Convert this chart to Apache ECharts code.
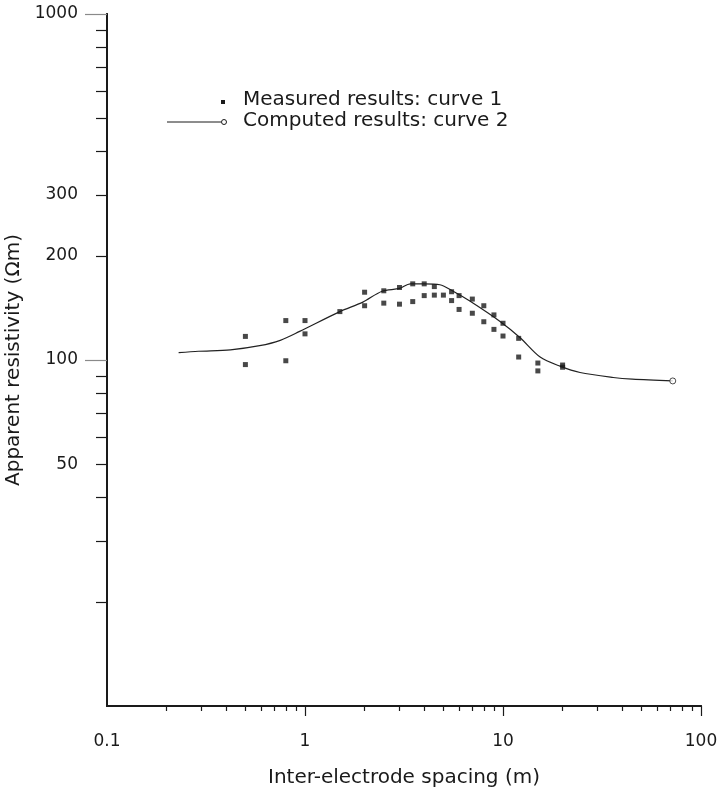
<!DOCTYPE html>
<html>
<head>
<meta charset="utf-8">
<script src="https://cdn.jsdelivr.net/npm/echarts@6/dist/echarts.min.js"></script>
<style>
  html, body { margin: 0; padding: 0; background: #fff; }
  #chart { width: 719px; height: 788px; }
</style>
</head>
<body>
<div id="chart"></div>
<script>
// measured points (curve 1)
const measuredX = [0.5, 0.5, 0.8, 0.8, 1, 1, 1.5, 2, 2, 2.5, 2.5, 3, 3, 3.5, 3.5, 4, 4, 4.5, 4.5, 5, 5.5, 5.5, 6, 6, 7, 7, 8, 8, 9, 9, 10, 10, 12, 12, 15, 15, 20, 20]
const measuredY = [117, 97, 130, 99.5, 130, 119, 138, 157, 143.5, 158.5, 146, 162, 145, 166, 147.5, 166, 153.5, 163, 154, 154, 157.5, 148.5, 153.5, 140, 150, 136.5, 143.5, 129, 135, 122.6, 127.7, 117.3, 115.5, 102, 98, 93, 96.7, 95.3]

// computed results (curve 2)
const computedX = [0.23, 0.29, 0.42, 0.59, 0.75, 0.94, 1.5, 1.96, 2.45, 3.0, 3.4, 4.0, 4.8, 5.6, 6.8, 9.7, 12.2, 15.4, 19.4, 24.5, 36, 45, 72]
const computedY = [105, 106, 107, 110, 114, 121, 138, 147, 158, 161, 166, 166, 165, 158, 148, 129, 116, 102, 96, 92, 89, 88, 87]

// axis ticks / labels
const xLabels = [0.1, 1, 10, 100]
const xMajorTicks = [1, 10, 100]
const xMinorTicks = [0.2, 0.3, 0.4, 0.5, 0.6, 0.7, 0.8, 0.9, 2, 3, 4, 5, 6, 7, 8, 9, 20, 30, 40, 50, 60, 70, 80, 90]
const yLabels = [50, 100, 200, 300, 1000]
const yMajorTicks = [100, 1000]
const yMinorTicks = [20, 30, 40, 50, 60, 70, 80, 90, 200, 300, 400, 500, 600, 700, 800, 900]

const FONT = "'DejaVu Sans', 'Liberation Sans', Arial, sans-serif"
const INK = '#1a1a1a'

const chart = echarts.init(document.getElementById('chart'))

function logAxis(min, max, ticks, tickLen, tickColor, labels, labelMargin, extra) {
  return Object.assign({
    type: 'log',
    logBase: 10,
    min: min,
    max: max,
    show: true,
    splitLine: { show: false },
    minorTick: { show: false },
    axisLine: { show: true, lineStyle: { color: INK, width: 2 } },
    axisTick: {
      show: true,
      inside: false,
      length: tickLen,
      customValues: ticks,
      lineStyle: { color: tickColor, width: 1.2 }
    },
    axisLabel: labels
      ? {
          show: true,
          customValues: labels,
          formatter: (v) => String(v),
          margin: labelMargin,
          color: INK,
          fontFamily: FONT,
          fontSize: 17
        }
      : { show: false }
  }, extra || {})
}

const measuredData = measuredX.map((x, i) => [x, measuredY[i]])
const computedData = computedX.map((x, i) => [x, computedY[i]])
const last = computedData[computedData.length - 1]

const option = {
  backgroundColor: '#fff',
  animation: false,
  grid: {
    left: 107,
    right: 18,
    top: 14,
    bottom: 82,
    containLabel: false,
    outerBoundsMode: 'none'
  },
  xAxis: [
    logAxis(0.1, 100, xMinorTicks, 5, INK, xLabels, 27, {
      name: 'Inter-electrode spacing (m)',
      nameLocation: 'middle',
      nameGap: 62,
      nameTextStyle: { color: INK, fontFamily: FONT, fontSize: 20, verticalAlign: 'top' }
    }),
    logAxis(0.1, 100, xMajorTicks, 10, INK, null, 0, { position: 'bottom', offset: 0 })
  ],
  yAxis: [
    logAxis(10, 1000, yMinorTicks, 11, INK, yLabels, 29, {
      name: 'Apparent resistivity (Ωm)',
      nameLocation: 'middle',
      nameGap: 76,
      nameTextStyle: { color: INK, fontFamily: FONT, fontSize: 20 }
    }),
    logAxis(10, 1000, yMajorTicks, 22, '#8a8a8a', null, 0, { position: 'left', offset: 0 })
  ],
  graphic: [
    {
      type: 'rect',
      shape: { x: 221, y: 100, width: 4, height: 4 },
      style: { fill: INK }
    },
    {
      type: 'line',
      shape: { x1: 167, y1: 122, x2: 221, y2: 122 },
      style: { stroke: INK, lineWidth: 1 }
    },
    {
      type: 'circle',
      shape: { cx: 224, cy: 122, r: 2.5 },
      style: { fill: '#fff', stroke: INK, lineWidth: 1 }
    },
    {
      type: 'text',
      left: 243,
      top: 90,
      style: { text: 'Measured results: curve 1', fill: INK, font: '20px ' + FONT }
    },
    {
      type: 'text',
      left: 243,
      top: 111,
      style: { text: 'Computed results: curve 2', fill: INK, font: '20px ' + FONT }
    }
  ],
  series: [
    {
      name: 'Computed results: curve 2',
      type: 'line',
      xAxisIndex: 0,
      yAxisIndex: 0,
      data: computedData,
      smooth: 0.3,
      symbol: 'none',
      lineStyle: { color: '#222', width: 1.2 },
      z: 2
    },
    {
      name: 'end',
      type: 'scatter',
      xAxisIndex: 0,
      yAxisIndex: 0,
      data: [last],
      symbol: 'circle',
      symbolSize: 6,
      itemStyle: { color: '#fff', borderColor: '#222', borderWidth: 1 },
      z: 3
    },
    {
      name: 'Measured results: curve 1',
      type: 'scatter',
      xAxisIndex: 0,
      yAxisIndex: 0,
      data: measuredData,
      symbol: 'rect',
      symbolSize: 5,
      itemStyle: { color: INK },
      z: 4
    },
    {
      // empty helper series so the tick-only axes are attached to the grid
      type: 'scatter',
      xAxisIndex: 1,
      yAxisIndex: 1,
      data: [],
      silent: true
    }
  ]
}

chart.setOption(option)
</script>
</body>
</html>
